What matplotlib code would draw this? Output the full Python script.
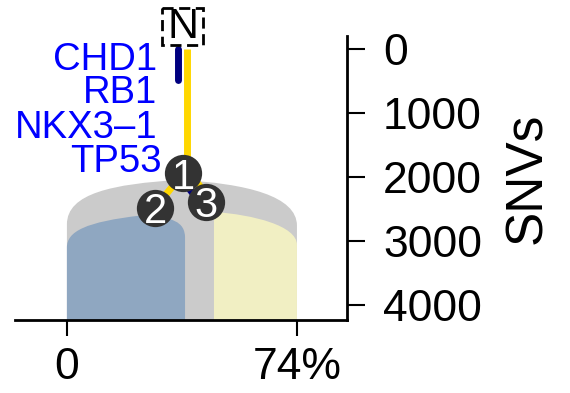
import matplotlib.pyplot as plt
from matplotlib.path import Path
from matplotlib.patches import PathPatch, Rectangle

plt.rcParams['font.family'] = ['Liberation Sans', 'DejaVu Sans']

# ---- clone outlines (x = cell fraction %, y = SNVs) ----
gray_outline = [(0, 4300), (0, 2740), (0, 2250), (15, 2110), (36, 2045),
                (58, 2100), (74, 2300), (74, 2760), (74, 4300), (0, 4300)]
blue_outline = [(0, 4300), (0, 3100), (0, 2850), (6, 2700), (24, 2600),
                (34, 2620), (38, 2700), (38, 2950), (38, 4300), (0, 4300)]
yellow_outline = [(47.3, 4300), (47.3, 2545), (60, 2590), (74, 2760), (74, 3060),
                  (74, 4300), (47.3, 4300)]

# ---- tree ----
root_x, root_y = 37.2, 0
node_x = [37.4, 28.4, 44.8]
node_y = [1940, 2480, 2390]
node_lab = ["1", "2", "3"]
trunk_navy_end = 484          # navy bar along the trunk
branch13_navy_frac = 0.5

genes = ["CHD1", "RB1", "NKX3\u20131", "TP53"]
gene_x = [29.0, 29.0, 29.0, 30.6]
gene_y = [328, 844, 1391, 1922]

xticks = [0, 74]
xticklabels = ["0", "74%"]
yticks = [0, 1000, 2000, 3000, 4000]

C_GRAY = "#cbcbcb"
C_BLUE = "#8fa7c1"
C_YEL = "#f1efc3"
C_GOLD = "#ffd700"
C_NAVY = "#000080"


def patch(pts, color, curves):
    codes = [Path.MOVETO, Path.LINETO]
    codes += [Path.CURVE4] * (3 * curves)
    codes += [Path.LINETO] * (len(pts) - len(codes) - 1) + [Path.CLOSEPOLY]
    return PathPatch(Path(pts, codes), facecolor=color, edgecolor="none")


fig = plt.figure(figsize=(5.7, 3.93), dpi=100)
ax = fig.add_axes([15 / 570, 73 / 393, 332 / 570, 284 / 393])

ax.add_patch(patch(gray_outline, C_GRAY, 2))
ax.add_patch(patch(blue_outline, C_BLUE, 2))
ax.add_patch(patch(yellow_outline, C_YEL, 1))

lw = 5
# trunk: gold and navy side by side
ax.plot([root_x + 1.5, root_x + 1.5], [root_y, node_y[0]], color=C_GOLD, lw=lw,
        solid_capstyle="butt", zorder=3)
ax.plot([root_x - 1.5, root_x - 1.5], [root_y, trunk_navy_end], color=C_NAVY, lw=lw,
        solid_capstyle="round", zorder=3)
# branch 1 -> 2
ax.plot([node_x[0], node_x[1]], [node_y[0], node_y[1]], color=C_GOLD, lw=lw, zorder=3)
# branch 1 -> 3
dx, dy = 1.25, 49
ax.plot([node_x[0] + dx, node_x[2] + dx], [node_y[0] - dy, node_y[2] - dy],
        color=C_GOLD, lw=lw, zorder=3)
nx = node_x[0] + (node_x[2] - node_x[0]) * branch13_navy_frac
ny = node_y[0] + (node_y[2] - node_y[0]) * branch13_navy_frac
ax.plot([node_x[0] - dx, nx - dx], [node_y[0] + dy, ny + dy], color=C_NAVY, lw=lw, zorder=3)

ax.scatter(node_x, node_y, s=720, color="#333333", zorder=5, linewidths=0)
for x, y, t in zip(node_x, node_y, node_lab):
    ax.text(x, y, t, color="white", fontsize=30, ha="center", va="center_baseline", zorder=6)

for g, x, y in zip(genes, gene_x, gene_y):
    ax.text(x, y, g, color="#0000ff", fontsize=27.5, ha="right", va="baseline", zorder=6)

# root label
ax.text(root_x, root_y - 170, "N", fontsize=31, ha="center", va="baseline", zorder=6,
        clip_on=False)
ax.add_patch(Rectangle((root_x - 6.5, root_y - 640), 13, 578, facecolor="none",
                       edgecolor="black", lw=2, ls=(0, (4, 2)), clip_on=False, zorder=6))

ax.set_xlim(-16.7, 90.1)
ax.set_ylim(4234, -203)
for s in ["top", "left"]:
    ax.spines[s].set_visible(False)
ax.spines["bottom"].set_linewidth(2)
ax.spines["right"].set_linewidth(2)

ax.set_xticks(xticks)
ax.set_xticklabels(xticklabels)
ax.yaxis.tick_right()
ax.yaxis.set_label_position("right")
ax.set_yticks(yticks)
ax.tick_params(axis="x", length=11.5, width=1.5, pad=8, labelsize=32)
ax.tick_params(axis="y", length=13, width=1.5, pad=13, labelsize=32)
ax.set_ylabel("SNVs", fontsize=37, labelpad=15, rotation=90)

fig.savefig("out.png", dpi=100)
